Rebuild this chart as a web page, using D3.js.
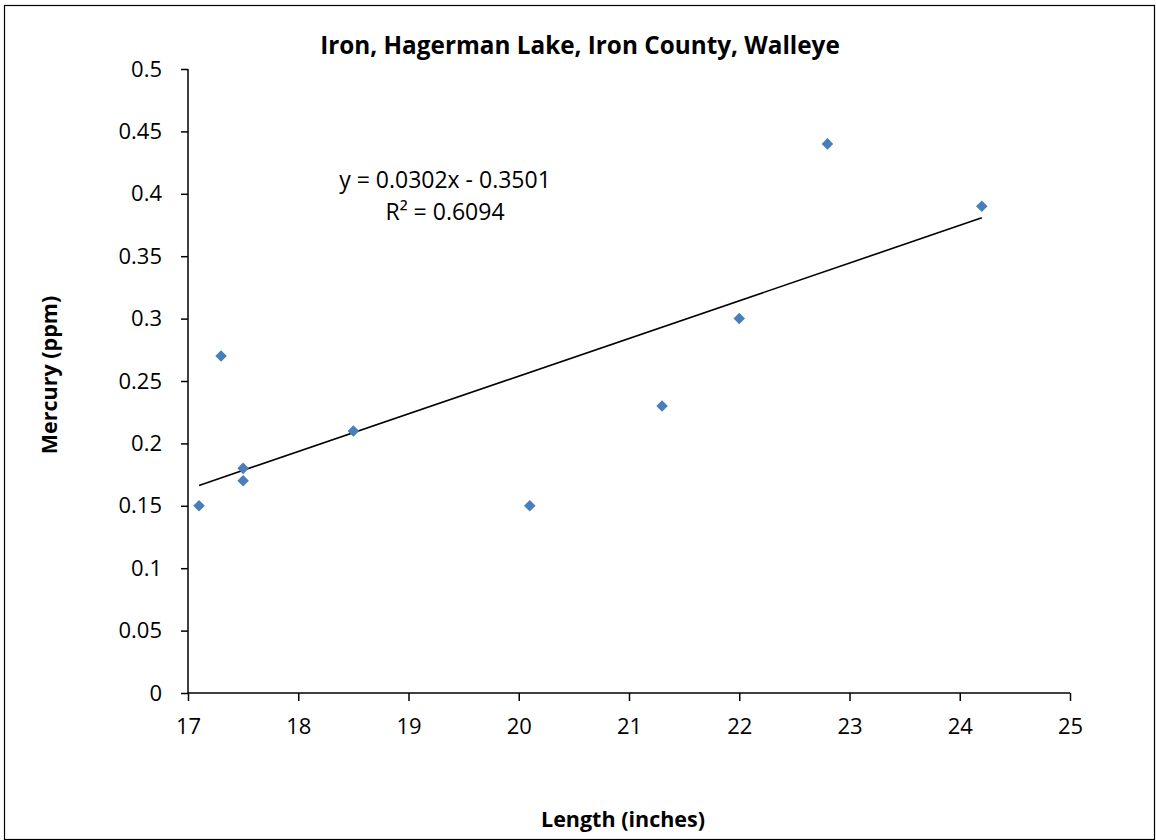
<!DOCTYPE html>
<html>
<head>
<meta charset="utf-8">
<script src="https://cdn.jsdelivr.net/npm/d3@7"></script>
<style>
  html, body { margin: 0; padding: 0; background: #fff; }
  svg text { font-family: "Open Sans", Lato, sans-serif; fill: #000; }
</style>
</head>
<body>
<svg id="chart" width="1156" height="840"></svg>
<script>
// Walleye samples: length in inches, mercury in ppm
const lengths = [17.1, 17.3, 17.5, 17.5, 18.5, 20.1, 21.3, 22.0, 22.8, 24.2];
const mercury = [0.15, 0.27, 0.18, 0.17, 0.21, 0.15, 0.23, 0.30, 0.44, 0.39];
const xTicks = [17, 18, 19, 20, 21, 22, 23, 24, 25];
const yTicks = [0, 0.05, 0.1, 0.15, 0.2, 0.25, 0.3, 0.35, 0.4, 0.45, 0.5];
const slope = 0.0302, intercept = -0.3501, rSquared = 0.6094;

const svg = d3.select("#chart");
const W = 1156, H = 840;
const plot = { left: 188, right: 1070, top: 69, bottom: 693 };

// outer chart frame
svg.append("rect").attr("x", 4.5).attr("y", 5.5).attr("width", W - 6).attr("height", H - 6)
  .attr("fill", "none").attr("stroke", "#000").attr("stroke-width", 1.2);

const x = d3.scaleLinear().domain([17, 25]).range([plot.left, plot.right]);
const y = d3.scaleLinear().domain([0, 0.5]).range([plot.bottom, plot.top]);

// axes
const xAxis = svg.append("g").attr("transform", `translate(0,${plot.bottom})`)
  .call(d3.axisBottom(x).tickValues(xTicks).tickSize(8).tickPadding(17).tickFormat(d3.format("d")));
const yAxis = svg.append("g").attr("transform", `translate(${plot.left},0)`)
  .call(d3.axisLeft(y).tickValues(yTicks).tickSize(7).tickPadding(19).tickFormat(d => String(+d.toFixed(2))));
[xAxis, yAxis].forEach(g => {
  g.select(".domain").attr("stroke", "#000").attr("stroke-width", 1.5);
  g.selectAll(".tick line").attr("stroke", "#000").attr("stroke-width", 1.5);
  g.selectAll(".tick text").style("font-size", "22px").attr("fill", "#000");
});
// plain axis lines, without end caps
xAxis.select(".domain").attr("d", `M${plot.left},0H${plot.right}`);
yAxis.select(".domain").attr("d", `M0,${plot.top}V${plot.bottom}`);

// linear trendline across the range of the data
const xMin = d3.min(lengths), xMax = d3.max(lengths);
svg.append("line")
  .attr("x1", x(xMin)).attr("y1", y(slope * xMin + intercept))
  .attr("x2", x(xMax)).attr("y2", y(slope * xMax + intercept))
  .attr("stroke", "#000").attr("stroke-width", 1.6);

// diamond markers
const diamond = d3.symbol().type(d3.symbolDiamond2).size(85);
svg.append("g").selectAll("path").data(lengths.map((l, i) => [l, mercury[i]]))
  .join("path")
  .attr("d", diamond)
  .attr("transform", d => `translate(${x(d[0])},${y(d[1])})`)
  .attr("fill", "#4a7ebb");

// titles
svg.append("text").attr("x", 580).attr("y", 54).attr("text-anchor", "middle")
  .style("font-size", "24.3px").style("font-weight", "bold")
  .text("Iron, Hagerman Lake, Iron County, Walleye");
svg.append("text").attr("x", 623).attr("y", 827).attr("text-anchor", "middle")
  .style("font-size", "21.5px").style("font-weight", "bold")
  .text("Length (inches)");
svg.append("text").attr("transform", "translate(57,375) rotate(-90)").attr("text-anchor", "middle")
  .style("font-size", "21.5px").style("font-weight", "bold")
  .text("Mercury (ppm)");

// trendline equation label
svg.append("text").attr("x", 445).attr("y", 188).attr("text-anchor", "middle")
  .style("font-size", "23px")
  .text(`y = ${slope.toFixed(4)}x - ${Math.abs(intercept).toFixed(4)}`);
svg.append("text").attr("x", 445).attr("y", 220).attr("text-anchor", "middle")
  .style("font-size", "23px")
  .text(`R² = ${rSquared.toFixed(4)}`);
</script>
</body>
</html>
